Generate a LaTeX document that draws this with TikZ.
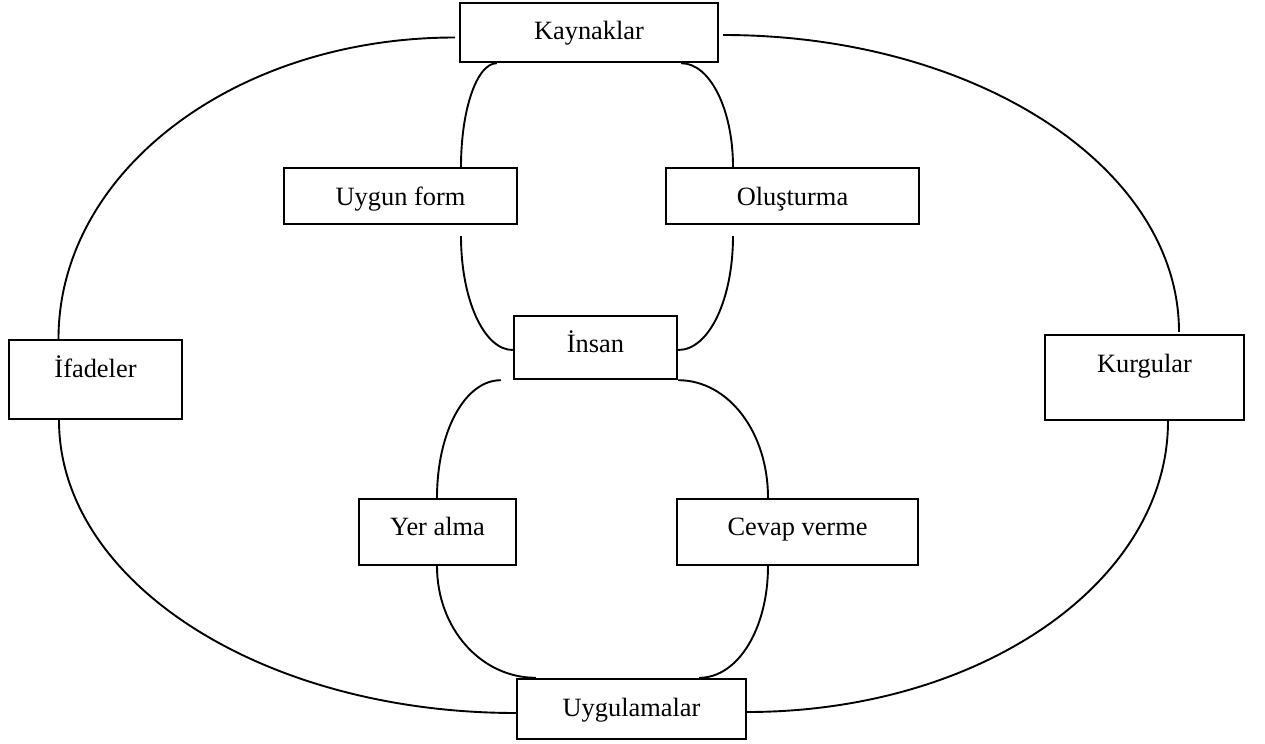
\documentclass[tikz,border=0pt]{standalone}
\usepackage{fontspec}
\setmainfont{Liberation Serif}
\usetikzlibrary{calc}

\begin{document}
\begin{tikzpicture}[x=0.5pt, y=-0.5pt,
  box/.style={draw, line width=1.2pt, inner sep=0pt, font=\fontsize{13.2pt}{15pt}\selectfont,
    text height=9.9pt, text depth=3.3pt},
  link/.style={line width=0.95pt}]
  \useasboundingbox (0,0) rectangle (1265,744);

  % boxes (centres in pixel units)
  \node[box, minimum width=129pt,   minimum height=29.5pt, text depth=3.3pt]  (kay) at (589,32.5)    {Kaynaklar};
  \node[box, minimum width=116.5pt, minimum height=28pt,   text depth=0.3pt]  (uf)  at (400.5,196)   {Uygun form};
  \node[box, minimum width=126.5pt, minimum height=28pt,   text depth=0.3pt]  (olu) at (792.5,196)   {Oluşturma};
  \node[box, minimum width=81.5pt,  minimum height=31.5pt, text depth=4.7pt]  (ins) at (595.5,347.5) {İnsan};
  \node[box, minimum width=86.5pt,  minimum height=39.5pt, text depth=12.3pt] (ifa) at (95.5,379.5)  {İfadeler};
  \node[box, minimum width=99.5pt,  minimum height=42.5pt, text depth=15.3pt] (kur) at (1144.5,377.5){Kurgular};
  \node[box, minimum width=78.5pt,  minimum height=33pt,   text depth=6.6pt]  (yer) at (437.5,532)   {Yer alma};
  \node[box, minimum width=120.5pt, minimum height=33pt,   text depth=6.6pt]  (cev) at (797.5,532)   {Cevap verme};
  \node[box, minimum width=114.5pt, minimum height=30pt,   text depth=2.9pt]  (uyg) at (631.5,709)   {Uygulamalar};

  % outer ring
  \draw[link] ($(kay.west)+(-4,5)$) .. controls +(-220,0) and +(0,-167) .. ($(ifa.north)+(-37,0)$);
  \draw[link] ($(kay.east)+(4,2.5)$) .. controls +(252,0) and +(0,-165) .. ($(kur.north)+(34.5,-2)$);
  \draw[link] ($(ifa.south)+(-36.5,0)$) .. controls +(0,162) and +(-253,0) .. ($(uyg.west)+(0,4)$);
  \draw[link] ($(kur.south)+(23.5,0)$) .. controls +(0,161) and +(233,0) .. ($(uyg.east)+(0,3)$);

  % inner loops
  \draw[link] ($(kay.south west)+(38,0)$) .. controls +(-20,0) and +(0,-57) .. ($(uf.north)+(60.5,0)$);
  \draw[link] ($(kay.south east)+(-38,0)$) .. controls +(29,0) and +(0,-57) .. ($(olu.north)+(-59.5,0)$);
  \draw[link] ($(uf.south)+(60.5,11)$) .. controls +(0,63) and +(-29,0) .. ($(ins.west)+(0,2.5)$);
  \draw[link] ($(olu.south)+(-59.5,11)$) .. controls +(0,63) and +(31,0) .. ($(ins.east)+(0,2.5)$);
  \draw[link] ($(ins.south west)+(-12,0)$) .. controls +(-36,0) and +(0,-66) .. ($(yer.north)+(-0.5,0)$);
  \draw[link] (ins.south east) .. controls +(50,0) and +(0,-66) .. ($(cev.north)+(-29.5,0)$);
  \draw[link] ($(yer.south)+(-0.5,0)$) .. controls +(0,62) and +(-55,0) .. ($(uyg.north west)+(20,0)$);
  \draw[link] ($(cev.south)+(-29.5,0)$) .. controls +(0,62) and +(39,0) .. ($(uyg.north east)+(-48,0)$);
\end{tikzpicture}
\end{document}
